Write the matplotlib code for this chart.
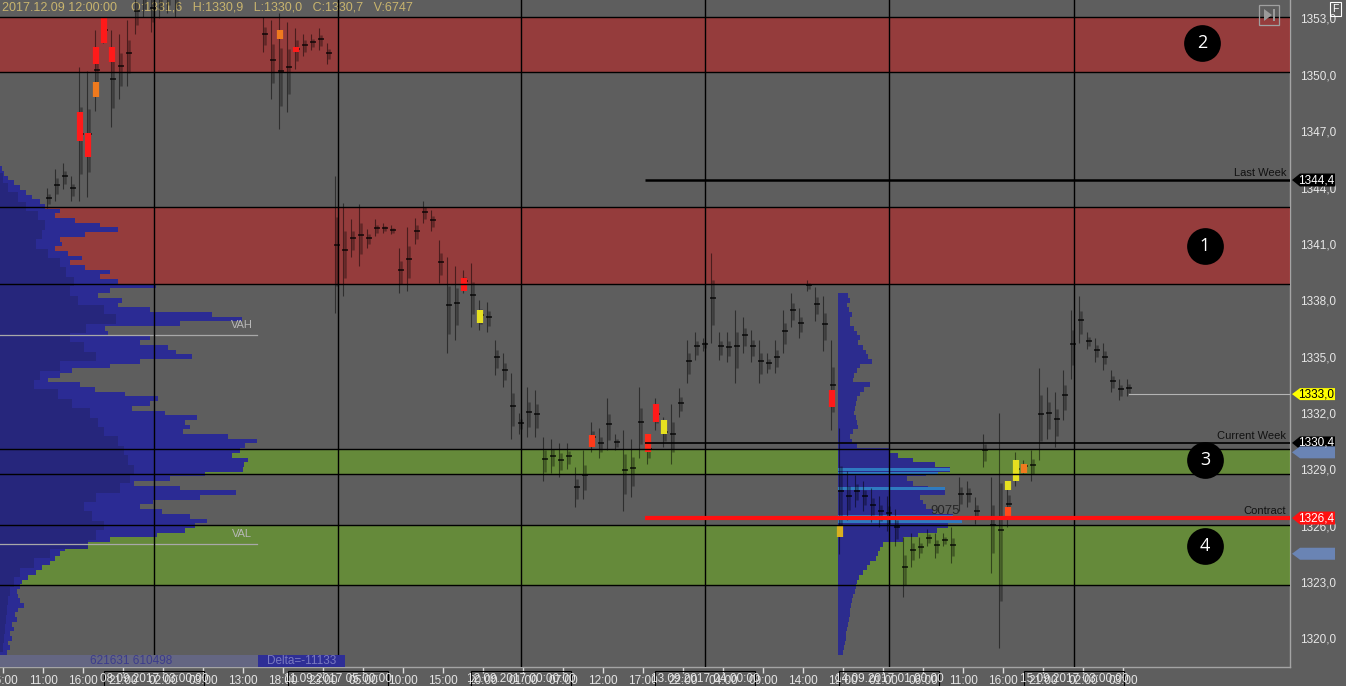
import numpy as np
import matplotlib.pyplot as plt
import matplotlib.transforms as mtransforms
from matplotlib.patches import Polygon, Rectangle

BG = "#5e5e5e"
FONT = "Liberation Sans"

# hourly bars: slot index, high, low
bar_slot = list(range(5, 22)) + list(range(32, 141))
bar_high = [1344.0, 1345.0, 1345.3, 1344.6, 1350.4, 1350.2, 1352.4, 1353.1, 1352.4, 1352.2,
            1352.9, 1354.6, 1355.0, 1354.8, 1355.2, 1355.5, 1355.3,
            1353.1, 1352.9, 1353.3, 1352.8, 1352.5, 1352.2, 1352.2, 1352.5, 1351.7,
            1344.6, 1343.2, 1342.3, 1343.1, 1341.8, 1342.3, 1342.1, 1342.0, 1340.8, 1341.9,
            1342.4, 1343.3, 1342.8, 1341.2, 1340.3, 1339.8, 1339.6, 1340.0, 1338.0, 1337.9,
            1335.9, 1335.2, 1334.1, 1332.0, 1333.4, 1333.2, 1330.7, 1330.6, 1330.4, 1330.4,
            1329.1, 1330.0, 1331.5, 1331.2, 1332.8, 1330.9, 1331.1, 1330.6, 1333.4, 1330.9,
            1332.8, 1331.8, 1332.5, 1333.3, 1335.9, 1336.3, 1336.0, 1340.5, 1336.3, 1336.3,
            1337.5, 1337.1, 1336.4, 1335.9, 1335.2, 1335.9, 1337.5, 1338.4, 1337.6, 1339.1,
            1338.7, 1338.2, 1335.9, 1331.2, 1328.9, 1328.7, 1328.4, 1328.0, 1327.6, 1327.6,
            1326.9, 1325.4, 1325.6, 1325.4, 1325.8, 1325.6, 1325.6, 1325.9, 1328.6, 1328.4,
            1327.5, 1330.9, 1328.6, 1332.0, 1328.4, 1329.9, 1329.5, 1330.0, 1334.4, 1333.4,
            1333.1, 1334.3, 1337.5, 1338.2, 1336.3, 1336.0, 1335.7, 1334.3, 1333.8, 1333.8]
bar_low = [1342.9, 1343.3, 1343.9, 1343.3, 1343.3, 1343.5, 1348.1, 1351.7, 1347.2, 1348.7,
           1349.4, 1352.2, 1353.1, 1352.3, 1353.0, 1353.3, 1353.1,
           1351.2, 1348.7, 1347.1, 1348.0, 1350.3, 1351.0, 1351.3, 1351.3, 1350.6,
           1337.3, 1338.2, 1340.3, 1339.8, 1340.8, 1341.4, 1341.6, 1341.5, 1338.4, 1338.5,
           1341.0, 1342.1, 1341.7, 1338.9, 1335.2, 1335.9, 1338.4, 1336.6, 1336.4, 1336.3,
           1334.0, 1333.4, 1330.6, 1330.9, 1330.7, 1330.7, 1328.4, 1328.8, 1328.6, 1329.0,
           1327.0, 1327.4, 1329.9, 1329.6, 1330.0, 1330.0, 1326.8, 1327.5, 1329.6, 1329.3,
           1331.1, 1330.2, 1329.3, 1331.8, 1333.6, 1334.8, 1335.3, 1335.7, 1334.8, 1334.7,
           1333.6, 1335.2, 1334.7, 1333.6, 1334.1, 1334.1, 1335.2, 1336.6, 1336.0, 1338.5,
           1336.9, 1335.3, 1331.1, 1324.5, 1326.3, 1327.0, 1326.8, 1326.2, 1325.9, 1325.7,
           1324.9, 1322.2, 1323.8, 1324.3, 1324.9, 1324.3, 1324.9, 1324.0, 1326.8, 1327.0,
           1326.1, 1329.1, 1323.5, 1319.5, 1325.9, 1328.1, 1328.8, 1328.4, 1329.5, 1330.6,
           1330.2, 1331.6, 1333.8, 1335.7, 1335.4, 1334.7, 1334.3, 1333.1, 1332.7, 1332.9]

# imbalance markers: slot, top, bottom, colour
mark_slot = [9, 10, 11, 11, 12, 13, 34, 36, 57, 59, 73, 80, 81, 82, 103, 104, 125, 125, 126, 127]
mark_top = [1348.0, 1346.9, 1349.6, 1351.5, 1353.0, 1351.5, 1352.4, 1351.5, 1339.2, 1337.5,
            1330.8, 1330.9, 1332.5, 1331.6, 1333.2, 1326.0, 1328.4, 1327.0, 1329.5, 1329.3]
mark_bot = [1346.5, 1345.6, 1348.8, 1350.6, 1351.7, 1350.7, 1351.9, 1351.2, 1338.5, 1336.8,
            1330.2, 1329.9, 1331.5, 1330.9, 1332.3, 1325.4, 1327.9, 1326.3, 1328.4, 1328.8]
mark_col = ["#ff1a1a", "#ff1a1a", "#f07a1e", "#ff1a1a", "#ff1a1a", "#ff1a1a", "#f07a1e", "#ff1a1a",
            "#ff1a1a", "#e6e020", "#ff3a1a", "#ff2a1a", "#ff1a1a", "#e6e020", "#ff1a1a", "#d8b020",
            "#e6e020", "#ff4a1a", "#e6e020", "#f07a1e"]

# composite volume profile (left), top level 1345.0, step 0.25
left_top = 1345.0
left_vol = [2, 4, 8, 14, 20, 26, 32, 40, 45, 60, 55, 75, 100, 118, 85, 60, 62, 55, 68, 82,
            70, 85, 110, 100, 118, 156, 110, 98, 122, 118, 150, 212, 242, 180, 105, 108, 150, 140,
            168, 176, 192, 140, 110, 72, 60, 48, 80, 95, 125, 158, 150, 132, 165, 197, 185, 190,
            183, 228, 257, 245, 240, 232, 248, 244, 243, 205, 170, 134, 180, 236, 200, 153, 140,
            162, 190, 207, 195, 185, 157, 110, 76, 65, 60, 55, 50, 42, 36, 28, 22, 20, 17, 18,
            20, 24, 18, 15, 17, 12, 14, 10, 12, 8, 10, 7, 5, 4]
# darker core of the same profile, top level 1344.5, step 0.5
core_top = 1344.5
core_vol = [3, 8, 18, 26, 38, 45, 42, 36, 48, 60, 66, 74, 70, 78, 104, 116, 86, 70, 84, 96,
            60, 40, 34, 58, 72, 90, 98, 104, 118, 124, 128, 134, 130, 120, 96, 84, 92, 104,
            96, 88, 50, 34, 20, 14, 10, 8, 7, 6, 5, 4, 3]
vah, val = 1336.15, 1325.0

# session profile (right), top level 1338.25, step 0.25
right_top = 1338.25
right_vol = [10, 12, 9, 11, 14, 12, 12, 16, 19, 22, 20, 25, 28, 30, 34, 22, 19, 16, 15, 32,
             26, 22, 19, 18, 17, 16, 18, 19, 20, 15, 12, 14, 19, 52, 60, 75, 97, 112, 88, 69,
             75, 90, 107, 82, 85, 88, 95, 115, 124, 110, 99, 80, 65, 45, 42, 40, 38, 32, 29,
             25, 21, 19, 18, 17, 15, 14, 13, 12, 12, 11, 10, 9, 8, 8, 7, 6, 5]
right_hi_rows = [1329.0, 1328.75, 1327.95, 1326.5, 1326.2]
right_hi_vol = [112, 100, 107, 115, 124]
right_poc_text = "9075"

# supply / demand zones
zone_lo = [1350.15, 1338.85, 1328.75, 1322.85]
zone_hi = [1353.1, 1342.95, 1330.1, 1326.05]
zone_col = ["#c81e1e", "#c81e1e", "#6cb419", "#6cb419"]
zone_num = ["2", "1", "3", "4"]

# reference lines
ref_names = ["Last Week", "Current Week", "Contract"]
ref_price = [1344.4, 1330.4, 1326.4]
ref_color = ["#000000", "#000000", "#ff1010"]
ref_width = [1.8, 1.2, 3.0]
last_close = 1333.0
va_tags = [1329.9, 1324.5]

day_sep = [18.4, 41.4, 64.25, 87.25, 110.25, 133.4]
day_text = ["08.09.2017 03:00:00", "11.09.2017 05:00:00", "12.09.2017 00:00:00",
            "13.09.2017 04:00:00", "14.09.2017 01:00:00", "15.09.2017 03:00:00"]
tick_text = ["06:00", "11:00", "16:00", "21:00", "02:00", "03:00", "13:00", "18:00", "23:00",
             "05:00", "10:00", "15:00", "20:00", "01:00", "07:00", "12:00", "17:00", "22:00",
             "04:00", "09:00", "14:00", "19:00", "01:00", "06:00", "11:00", "16:00", "21:00",
             "02:00", "03:00"]

header = "2017.12.09 12:00:00    O:1331,6   H:1330,9   L:1330,0   C:1330,7   V:6747"

# ---- layout ----
W, H = 1346, 686
AX_W, AX_H = 1290, 667
fig = plt.figure(figsize=(W / 100, H / 100), dpi=100, facecolor=BG)
ax = fig.add_axes([0, (H - AX_H) / H, AX_W / W, AX_H / H])
ax.set_facecolor(BG)
ymin, ymax = 1318.47, 1353.985
xmin, xmax = -0.875, 160.375
ax.set_xlim(xmin, xmax)
ax.set_ylim(ymin, ymax)
ppt = AX_H / (ymax - ymin)  # px per point
pps = AX_W / (xmax - xmin)  # px per slot

tr_ay = mtransforms.blended_transform_factory(ax.transAxes, ax.transData)
tr_xa = mtransforms.blended_transform_factory(ax.transData, ax.transAxes)

# header
ax.text(2 / AX_W, 1 - 8 / AX_H, header, transform=ax.transAxes, color="#c8b46e",
        fontsize=9, family=FONT, va="center", ha="left", zorder=1)

# zones
for lo, hi, c in zip(zone_lo, zone_hi, zone_col):
    ax.axhspan(lo, hi, color=c, alpha=0.52, lw=0, zorder=3)
    ax.axhline(lo, color="black", lw=1, zorder=7)
    ax.axhline(hi, color="black", lw=1, zorder=7)


def profile(top, step, vols, scale, left, color, z):
    v = left + np.asarray(vols, dtype=float)[::-1] * scale
    edges = top + step / 2 - step * np.arange(len(vols) + 1)
    ax.stairs(v, edges[::-1], orientation="horizontal", baseline=left, fill=True,
              color=color, lw=0, zorder=z)


# left profile
lscale = (257 / pps) / max(left_vol)
profile(left_top, 0.25, left_vol, lscale, xmin, "#2b2b94", 4)
profile(core_top, 0.5, core_vol, lscale, xmin, "#26267c", 4.1)

# right profile
rscale = (124 / pps) / max(right_vol)
rstart = (838 - 7) / 8
profile(right_top, 0.25, right_vol, rscale, rstart, "#2c2c8e", 4)
ax.barh(right_hi_rows, np.array(right_hi_vol) * rscale, height=0.16, left=rstart,
        color="#2f7bc0", lw=0, zorder=4.2)
ax.text(117.3, 1326.8, right_poc_text, color="#262626", fontsize=9.5, family=FONT,
        ha="center", va="center", zorder=8)

# VAH / VAL
for p, t in [(vah, "VAH"), (val, "VAL")]:
    ax.plot([xmin, 31.25], [p, p], color="#a8a8a8", lw=0.9, zorder=6)
    ax.text(29.4, p + 0.55, t, color="#b8b8b8", fontsize=8, family=FONT,
            ha="center", va="center", zorder=6)

# bars
bs = np.array(bar_slot, dtype=float)
bh = np.array(bar_high)
bl = np.array(bar_low)
rng = bh - bl
ax.vlines(bs, bl, bh, color="black", alpha=0.5, lw=0.8, zorder=4.5)
ax.vlines(bs + 0.2, bl + 0.2 * rng, bh - 0.3 * rng, color="black", alpha=0.35, lw=1.8, zorder=4.5)
ax.hlines((bh + bl) / 2, bs - 0.1, bs + 0.65, color="black", alpha=0.85, lw=1.1, zorder=4.6)

# markers
ax.vlines(np.array(mark_slot) + 0.15, mark_bot, mark_top, colors=mark_col, lw=4.5, zorder=5)

# day separators
for s in day_sep:
    ax.axvline(s, color="black", lw=1, zorder=7)

# reference lines
for n, p, c, w in zip(ref_names, ref_price, ref_color, ref_width):
    ax.plot([79.75, xmax], [p, p], color=c, lw=w, zorder=7, solid_capstyle="butt")
    ax.text(159.9, p + 0.38, n, color="#111111", fontsize=8, family=FONT,
            ha="right", va="center", zorder=8)
ax.plot([140.3, xmax], [last_close, last_close], color="#b4b4b4", lw=0.8, zorder=6)

# numbered circles
cx = [149.4, 149.75, 149.75, 149.75]
cy = [1351.7, 1340.9, 1329.5, 1324.9]
ax.scatter(cx, cy, s=700, c="black", zorder=9, lw=0)
for x, y, t in zip(cx, cy, zone_num):
    ax.text(x, y, t, color="white", fontsize=13, family="Open Sans", ha="center", va="center", zorder=10)

# bottom strip
y_strip = 1319.1
ax.add_patch(Rectangle((xmin, ymin), 42.25 - xmin, y_strip - ymin, facecolor="#646682", lw=0, zorder=8))
ax.add_patch(Rectangle((31.4, ymin), 42.25 - 31.4, y_strip - ymin, facecolor="#2e2e96", lw=0, zorder=8))
ax.text(15.5, (ymin + y_strip) / 2, "621631 610498", color="#3c3c8c", fontsize=8.5, family=FONT,
        ha="center", va="center", zorder=9)
ax.text(36.8, (ymin + y_strip) / 2, "Delta=-11133", color="#7a7ac0", fontsize=8.5, family=FONT,
        ha="center", va="center", zorder=9)

# axes styling
for s in ["top", "left"]:
    ax.spines[s].set_visible(False)
for s in ["right", "bottom"]:
    ax.spines[s].set_color("#a4a4a4")
    ax.spines[s].set_linewidth(1)
ax.yaxis.tick_right()
yt = list(range(1320, 1354, 3))
ax.set_yticks(yt)
ax.set_yticklabels([f"{v},0" for v in yt], family=FONT)
ax.tick_params(axis="y", length=0, pad=7, labelcolor="#e6e6e6", labelsize=8.5)
xt = [5 * k - 0.5 for k in range(len(tick_text))]
ax.set_xticks(xt)
ax.set_xticklabels(tick_text, family=FONT)
ax.tick_params(axis="x", length=4, width=1, color="#dcdcdc", labelcolor="#e6e6e6",
               labelsize=8.5, pad=1.5, direction="out")

# date boxes on the time axis (outlined only, drawn over the hour labels like the terminal does)
for s, t in zip(day_sep, day_text):
    ax.add_patch(Rectangle((s - 6.25, -0.029), 12.5, 0.023, transform=tr_xa, facecolor="none",
                           edgecolor="black", lw=0.8, clip_on=False, zorder=10))
    ax.text(s, -0.0175, t, transform=tr_xa, color="#e6e6e6", fontsize=8.5, family=FONT,
            ha="center", va="center", clip_on=False, zorder=11)


# price tags on the right axis
def price_tag(price, text, face, fg, h_px=6.5):
    x0, x1, x2 = 1292 / AX_W, 1300 / AX_W, 1335 / AX_W
    h = h_px / ppt
    ax.add_patch(Polygon([(x0, price), (x1, price + h), (x2, price + h), (x2, price - h), (x1, price - h)],
                         closed=True, transform=tr_ay, facecolor=face, edgecolor="none",
                         clip_on=False, zorder=12))
    if text:
        ax.text((x1 + x2) / 2 - 1 / AX_W, price, text, transform=tr_ay, color=fg, fontsize=8.5,
                family=FONT, ha="center", va="center", clip_on=False, zorder=13)


for p, c in zip(ref_price, ref_color):
    price_tag(p, f"{p:.1f}".replace(".", ","), c, "white")
price_tag(last_close, f"{last_close:.1f}".replace(".", ","), "#ffff00", "black", 6)
for p in va_tags:
    price_tag(p, "", "#6a84b4", "white", 6)

# top-right buttons
ax.add_patch(Rectangle((1259 / AX_W, 1 - 25 / AX_H), 20 / AX_W, 20 / AX_H, transform=ax.transAxes,
                       facecolor="none", edgecolor="#a0a0a0", lw=0.9, zorder=12))
ax.add_patch(Polygon([(1264 / AX_W, 1 - 9 / AX_H), (1264 / AX_W, 1 - 21 / AX_H), (1272 / AX_W, 1 - 15 / AX_H)],
                     transform=ax.transAxes, facecolor="#9a9a9a", lw=0, zorder=12))
ax.add_patch(Rectangle((1272.5 / AX_W, 1 - 21 / AX_H), 2.5 / AX_W, 12 / AX_H, transform=ax.transAxes,
                       facecolor="#9a9a9a", lw=0, zorder=12))
fig.text(1335.5 / W, 1 - 9 / H, "F", color="white", fontsize=7.5, family=FONT, ha="center", va="center",
         bbox=dict(boxstyle="square,pad=0.2", facecolor="none", edgecolor="white", lw=0.8))

fig.savefig("out.png", dpi=100, facecolor=BG)
